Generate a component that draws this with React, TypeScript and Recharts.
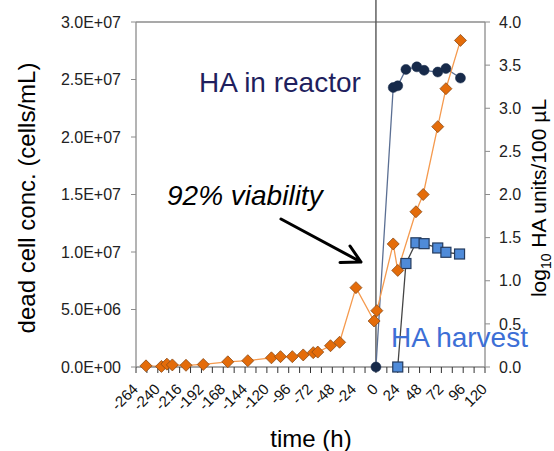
import React from 'react';
import {
  ComposedChart,
  Line,
  XAxis,
  YAxis,
  ReferenceLine,
} from 'recharts';

// dead cell concentration (cells/mL), left axis
const deadTimes = [-253, -236, -230, -224, -209, -190, -163, -141, -115, -105, -92, -80, -69, -64, -50, -40, -22, -2, 1, 19, 24, 44, 52, 68, 77, 93];
const deadValues = [1.0e5, 5.0e4, 2.5e5, 1.8e5, 1.5e5, 2.2e5, 4.5e5, 5.5e5, 8.0e5, 9.0e5, 9.0e5, 1.05e6, 1.25e6, 1.3e6, 1.85e6, 2.15e6, 6.9e6, 4.0e6, 4.9e6, 1.07e7, 8.4e6, 1.35e7, 1.5e7, 2.09e7, 2.42e7, 2.84e7];

// log10 HA units / 100 uL, right axis
const reactorTimes = [0, 19, 24, 33, 45, 53, 68, 77, 93];
const reactorValues = [0, 3.24, 3.26, 3.45, 3.48, 3.44, 3.42, 3.46, 3.35];
const harvestTimes = [24, 33, 44, 53, 68, 77, 92];
const harvestValues = [0, 1.2, 1.44, 1.43, 1.38, 1.33, 1.31];

const xTicks = [-264, -252, -240, -228, -216, -204, -192, -180, -168, -156, -144, -132, -120, -108, -96, -84, -72, -60, -48, -36, -24, -12, 0, 12, 24, 36, 48, 60, 72, 84, 96, 108, 120];
const leftTicks = [0, 5e6, 1e7, 1.5e7, 2e7, 2.5e7, 3e7];
const rightTicks = [0, 0.5, 1, 1.5, 2, 2.5, 3, 3.5, 4];

const deadData = deadTimes.map((t, i) => ({ t, v: deadValues[i] }));
const reactorData = reactorTimes.map((t, i) => ({ t, v: reactorValues[i] }));
const harvestData = harvestTimes.map((t, i) => ({ t, v: harvestValues[i] }));

const FONT = '"Liberation Sans", Arial, sans-serif';
const AXIS_GRAY = '#8c8c8c';

const fmtSci = (v: number) => {
  if (v === 0) return '0.0E+00';
  const e = Math.floor(Math.log10(v) + 1e-9);
  const m = v / Math.pow(10, e);
  return `${m.toFixed(1)}E+${String(e).padStart(2, '0')}`;
};

const TimeTick = ({ x, y, payload }: any) => {
  if (payload.value % 24 !== 0) return null;
  return (
    <g transform={`translate(${x + 3},${y + 15})`}>
      <text transform="rotate(-45)" textAnchor="end" fontSize={15} fill="#111" fontFamily={FONT}>
        {String(payload.value)}
      </text>
    </g>
  );
};

const Diamond = (p: any) => {
  const { cx, cy, index } = p;
  if (cx == null || cy == null) return null;
  const r = 6;
  return (
    <path
      key={`d${index}`}
      d={`M${cx},${cy - r} L${cx + r},${cy} L${cx},${cy + r} L${cx - r},${cy} Z`}
      fill="#E46C0A"
      stroke="#8A4A17"
      strokeWidth={0.8}
    />
  );
};

const Dot = (p: any) => {
  const { cx, cy, index } = p;
  if (cx == null || cy == null) return null;
  return <circle key={`c${index}`} cx={cx} cy={cy} r={5} fill="#172A4A" stroke="#172A4A" strokeWidth={0.5} />;
};

const Square = (p: any) => {
  const { cx, cy, index } = p;
  if (cx == null || cy == null) return null;
  const h = 5;
  return (
    <rect key={`s${index}`} x={cx - h} y={cy - h} width={2 * h} height={2 * h} fill="#4F8BD9" stroke="#243B5E" strokeWidth={1.2} />
  );
};

// x = 0 marker, running from the top of the picture down to the time axis
const TallLine = (p: any) => (
  <line x1={p.x1} y1={0} x2={p.x2} y2={Math.max(p.y1, p.y2)} stroke="#555" strokeWidth={1.4} />
);

export default function App() {
  return (
    <div style={{ position: 'absolute', left: 0, top: 0, width: 554, height: 451, background: '#fff' }}>
      <ComposedChart width={554} height={451} margin={{ top: 22, right: 0, bottom: 0, left: 0 }}>
        <XAxis
          type="number"
          dataKey="t"
          domain={[-264, 120]}
          ticks={xTicks}
          interval={0}
          tick={<TimeTick />}
          tickSize={6}
          height={84}
          axisLine={{ stroke: AXIS_GRAY, strokeWidth: 1.3 }}
          tickLine={{ stroke: '#333', strokeWidth: 1 }}
          allowDataOverflow
        />
        <YAxis
          yAxisId="left"
          type="number"
          domain={[0, 3e7]}
          ticks={leftTicks}
          tickFormatter={fmtSci}
          width={136}
          tickSize={5}
          tickMargin={10}
          axisLine={{ stroke: AXIS_GRAY, strokeWidth: 1.3 }}
          tickLine={{ stroke: AXIS_GRAY }}
          tick={{ fontSize: 16, fill: '#222', fontFamily: FONT }}
        />
        <YAxis
          yAxisId="right"
          orientation="right"
          type="number"
          domain={[0, 4]}
          ticks={rightTicks}
          tickFormatter={(v: number) => v.toFixed(1)}
          width={69}
          tickSize={5}
          tickMargin={9}
          axisLine={{ stroke: AXIS_GRAY, strokeWidth: 1.3 }}
          tickLine={{ stroke: AXIS_GRAY }}
          tick={{ fontSize: 16, fill: '#222', fontFamily: FONT }}
        />
        <ReferenceLine yAxisId="left" y={3e7} stroke={AXIS_GRAY} strokeWidth={1.3} />
        <ReferenceLine yAxisId="left" x={0} shape={TallLine} />
        <Line
          yAxisId="right"
          data={reactorData}
          dataKey="v"
          stroke="#5B6F93"
          strokeWidth={1.3}
          dot={Dot}
          isAnimationActive={false}
        />
        <Line
          yAxisId="right"
          data={harvestData}
          dataKey="v"
          stroke="#444"
          strokeWidth={1.3}
          dot={Square}
          isAnimationActive={false}
        />
        <Line
          yAxisId="left"
          data={deadData}
          dataKey="v"
          stroke="#F59A4E"
          strokeWidth={1.3}
          dot={Diamond}
          isAnimationActive={false}
        />
      </ComposedChart>
      <svg
        width={554}
        height={451}
        style={{ position: 'absolute', left: 0, top: 0, pointerEvents: 'none' }}
        fontFamily={FONT}
      >
        <text x={35} y={198} transform="rotate(-90 35 198)" textAnchor="middle" fontSize={24} fill="#000">
          dead cell conc. (cells/mL)
        </text>
        <text x={311} y={447} textAnchor="middle" fontSize={24} fill="#000">
          time (h)
        </text>
        <text x={546} y={198} transform="rotate(-90 546 198)" textAnchor="middle" fontSize={21} fill="#000">
          log<tspan fontSize={14} dy={5}>10</tspan>
          <tspan dy={-5}> HA units/100 µL</tspan>
        </text>
        <text x={199} y={92} fontSize={28} fill="#1F1F5E">HA in reactor</text>
        <text x={167} y={205} fontSize={28} fontStyle="italic" fill="#000">92% viability</text>
        <text x={391} y={347} fontSize={28} fill="#3D6FD6">HA harvest</text>
        <path d="M281,219 L361,262 M340,262.5 L361,262 L350,246" stroke="#000" strokeWidth={3} fill="none" strokeLinecap="round" strokeLinejoin="round" />
      </svg>
    </div>
  );
}
